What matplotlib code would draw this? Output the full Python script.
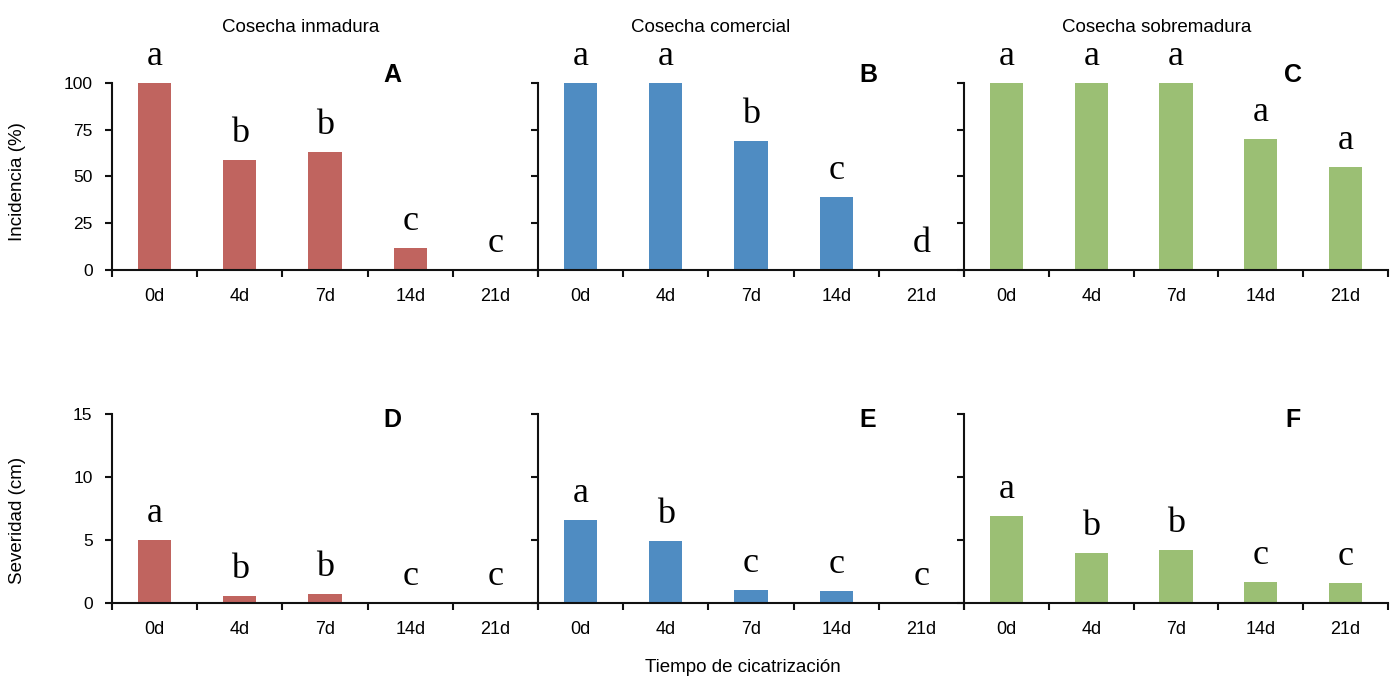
import matplotlib
matplotlib.use('Agg')
import matplotlib.pyplot as plt
import numpy as np

# ---------------- data ----------------
days = ['0d', '4d', '7d', '14d', '21d']
harvests = ['Cosecha inmadura', 'Cosecha comercial', 'Cosecha sobremadura']
panels_top = ['A', 'B', 'C']
panels_bot = ['D', 'E', 'F']

incid_inmadura = [100, 59, 63, 12, 0]
incid_comercial = [100, 100, 69, 39, 0]
incid_sobremadura = [100, 100, 100, 70, 55]

sev_inmadura = [5.0, 0.55, 0.68, 0.0, 0.0]
sev_comercial = [6.6, 4.9, 1.05, 0.95, 0.0]
sev_sobremadura = [6.9, 4.0, 4.2, 1.7, 1.6]

let_incid_inmadura = ['a', 'b', 'b', 'c', 'c']
let_incid_comercial = ['a', 'a', 'b', 'c', 'd']
let_incid_sobremadura = ['a', 'a', 'a', 'a', 'a']
let_sev_inmadura = ['a', 'b', 'b', 'c', 'c']
let_sev_comercial = ['a', 'b', 'c', 'c', 'c']
let_sev_sobremadura = ['a', 'b', 'b', 'c', 'c']

incid_ticks = [0, 25, 50, 75, 100]
sev_ticks = [0, 5, 10, 15]

colors = ['#C0645F', '#4F8CC2', '#9BBF74']

# ---------------- layout ----------------
W, H = 1397, 678
fig = plt.figure(figsize=(W / 100, H / 100), dpi=100)
plt.rcParams['font.family'] = ['Liberation Sans', 'DejaVu Sans']

def px_axes(x0, y0, x1, y1):
    return fig.add_axes([x0 / W, 1 - y1 / H, (x1 - x0) / W, (y1 - y0) / H])

cols = [(112, 538), (538, 964), (964, 1388)]
rows = [(83, 270), (414, 603)]
plabel_x = [392, 868, 1293]
plabel_y = [75, 420]

top_vals = [incid_inmadura, incid_comercial, incid_sobremadura]
bot_vals = [sev_inmadura, sev_comercial, sev_sobremadura]
top_lets = [let_incid_inmadura, let_incid_comercial, let_incid_sobremadura]
bot_lets = [let_sev_inmadura, let_sev_comercial, let_sev_sobremadura]

lw = 1.5
x = np.arange(len(days))

def draw(ax, vals, lets, color, ymax, yticks, show_labels):
    ax.bar(x, vals, width=0.39, color=color, edgecolor='none', zorder=2)
    ax.set_xlim(-0.5, len(days) - 0.5)
    ax.set_ylim(0, ymax)
    for s in ['top', 'right']:
        ax.spines[s].set_visible(False)
    for s in ['left', 'bottom']:
        ax.spines[s].set_linewidth(lw)
        ax.spines[s].set_color('#111111')
    ax.spines['bottom'].set_zorder(3)
    ax.set_xticks(x)
    ax.set_xticklabels(days, fontsize=13)
    ax.set_xticks(np.arange(-0.5, len(days)), minor=True)
    ax.tick_params(axis='x', which='major', length=0, pad=13)
    ax.tick_params(axis='x', which='minor', length=5, width=lw, direction='out', color='#111111')
    ax.set_yticks(yticks)
    ax.tick_params(axis='y', which='major', length=5, width=lw, direction='out',
                   color='#111111', labelsize=12.5, pad=9)
    if not show_labels:
        ax.set_yticklabels([])
    for xi, v, l in zip(x, vals, lets):
        ax.annotate(l, (xi, v), xytext=(0, 13), textcoords='offset points',
                    ha='center', va='baseline', fontsize=26,
                    family=['Liberation Serif', 'DejaVu Serif'],
                    annotation_clip=False, zorder=4)
    ax.patch.set_alpha(0)

for i, (c0, c1) in enumerate(cols):
    ax = px_axes(c0, rows[0][0], c1, rows[0][1])
    draw(ax, top_vals[i], top_lets[i], colors[i], 100, incid_ticks, i == 0)
    ax2 = px_axes(c0, rows[1][0], c1, rows[1][1])
    draw(ax2, bot_vals[i], bot_lets[i], colors[i], 15, sev_ticks, i == 0)
    fig.text(plabel_x[i] / W, 1 - plabel_y[0] / H, panels_top[i], fontsize=18,
             fontweight='bold', ha='center', va='center')
    fig.text(plabel_x[i] / W, 1 - plabel_y[1] / H, panels_bot[i], fontsize=18,
             fontweight='bold', ha='center', va='center')

title_x = [301, 711, 1157]
for t, tx in zip(harvests, title_x):
    fig.text(tx / W, 1 - 27 / H, t, ha='center', va='center', fontsize=13.5)

fig.text(18 / W, 1 - 182 / H, 'Incidencia (%)', rotation=90, ha='center', va='center', fontsize=13.5)
fig.text(18 / W, 1 - 520 / H, 'Severidad (cm)', rotation=90, ha='center', va='center', fontsize=13.5)
fig.text(743 / W, 1 - 668 / H, 'Tiempo de cicatrización', ha='center', va='center', fontsize=13.5)

fig.savefig('out.png', dpi=100)
